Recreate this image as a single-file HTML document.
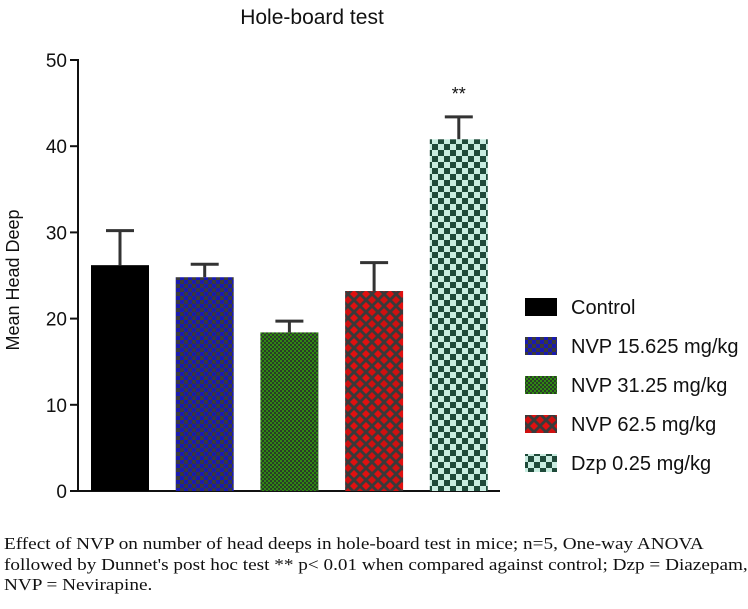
<!DOCTYPE html>
<html><head><meta charset="utf-8"><style>
body{margin:0;background:#fff;width:748px;height:609px;overflow:hidden;position:relative;font-family:"Liberation Sans",sans-serif}
.cap{position:absolute;left:4px;top:534px;font-family:"Liberation Serif",serif;font-size:17px;line-height:20.5px;color:#111;white-space:nowrap;transform:scaleX(1.13);transform-origin:0 0}
</style></head><body>
<svg id="chart" width="748" height="520" style="position:absolute;left:0;top:0">
<defs>
<pattern id="pBlue" width="8" height="8" patternUnits="userSpaceOnUse"><rect width="8" height="8" fill="#3a3a3a"/><rect width="4" height="4" fill="#1a1ab0"/><rect x="4" y="4" width="4" height="4" fill="#1a1ab0"/></pattern>
<pattern id="pGreen" width="4" height="4" patternUnits="userSpaceOnUse"><rect width="4" height="4" fill="#2a3a2a"/><rect width="2" height="2" fill="#2e8a10"/><rect x="2" y="2" width="2" height="2" fill="#2e8a10"/></pattern>
<pattern id="pRed" width="12" height="12" patternUnits="userSpaceOnUse"><rect width="12" height="12" fill="#3a3a3a"/><path d="M6 2L10 6L6 10L2 6Z" fill="#e01010"/><path d="M0 -4L4 0L0 4L-4 0Z M12 -4L16 0L12 4L8 0Z M0 8L4 12L0 16L-4 12Z M12 8L16 12L12 16L8 12Z" fill="#d01010"/></pattern>
<pattern id="pDzp" width="12" height="12" patternUnits="userSpaceOnUse"><rect width="12" height="12" fill="#c8ece0"/><rect width="6" height="6" fill="#1f4a3a"/><rect x="6" y="6" width="6" height="6" fill="#1f4a3a"/></pattern>
</defs>
<text x="312" y="24" font-size="21" text-anchor="middle" fill="#111">Hole-board test</text>
<text transform="translate(19,280) rotate(-90)" font-size="18" text-anchor="middle" fill="#111">Mean Head Deep</text>
<g id="axes"></g><g id="bars"></g><g id="legend"></g>
</svg>
<div class="cap">Effect of NVP on number of head deeps in hole-board test in mice; n=5, One-way ANOVA<br>followed by Dunnet's post hoc test ** p&lt; 0.01 when compared against control; Dzp = Diazepam,<br>NVP = Nevirapine.</div>
<script>
const categories=["Control","NVP 15.625 mg/kg","NVP 31.25 mg/kg","NVP 62.5 mg/kg","Dzp 0.25 mg/kg"];
const means=[26.2,24.8,18.4,23.2,40.8];
const errors=[4.0,1.5,1.3,3.3,2.6];
const sigLabels=["","","","","**"];
const yTicks=[0,10,20,30,40,50];
const fills=["#000","url(#pBlue)","url(#pGreen)","url(#pRed)","url(#pDzp)"];
const NS="http://www.w3.org/2000/svg";
const y0=491,yTop=60,yMax=50,x0=78;
const y=v=>y0-(v/yMax)*(y0-yTop);
const bx=i=>91+i*84.7, bw=58;
function mk(tag,attrs,parent){const e=document.createElementNS(NS,tag);for(const k in attrs)e.setAttribute(k,attrs[k]);parent.appendChild(e);return e;}
const axes=document.getElementById('axes'),bars=document.getElementById('bars'),leg=document.getElementById('legend');
let a=mk('line',{x1:x0,y1:y(yMax)-1,x2:x0,y2:y0+1,stroke:'#111','stroke-width':2},axes);

a=mk('line',{x1:x0,y1:y0,x2:500,y2:y0,stroke:'#111','stroke-width':2},axes);

yTicks.forEach(t=>{
 const l=mk('line',{x1:x0-8,y1:y(t),x2:x0,y2:y(t),stroke:'#111','stroke-width':2},axes);
 
 const tx=mk('text',{x:x0-11,y:y(t)+7,'font-size':19,'text-anchor':'end',fill:'#111'},axes);
 tx.textContent=t;
 
});
means.forEach((m,i)=>{
 const cx=bx(i)+bw/2;
 const e=mk('line',{x1:cx,y1:y(m),x2:cx,y2:y(m+errors[i]),stroke:'#333','stroke-width':3},bars);
 
 const c=mk('line',{x1:cx-14,y1:y(m+errors[i]),x2:cx+14,y2:y(m+errors[i]),stroke:'#333','stroke-width':3},bars);
 
 const r=mk('rect',{x:bx(i),y:y(m),width:bw,height:y0-y(m),fill:fills[i]},bars);
 
 if(sigLabels[i]){const s=mk('text',{x:cx,y:y(m+errors[i])-17,'font-size':18,'text-anchor':'middle',fill:'#111'},bars);s.textContent=sigLabels[i];
 }
});
categories.forEach((c,i)=>{
 const yy=298+i*39;
 const g=mk('g',{},leg);
 
 mk('rect',{x:525,y:yy,width:32,height:18,fill:fills[i]},g);
 const t=mk('text',{x:571,y:yy+16,'font-size':20,fill:'#111'},g);t.textContent=c;
});
</script>
</body></html>
